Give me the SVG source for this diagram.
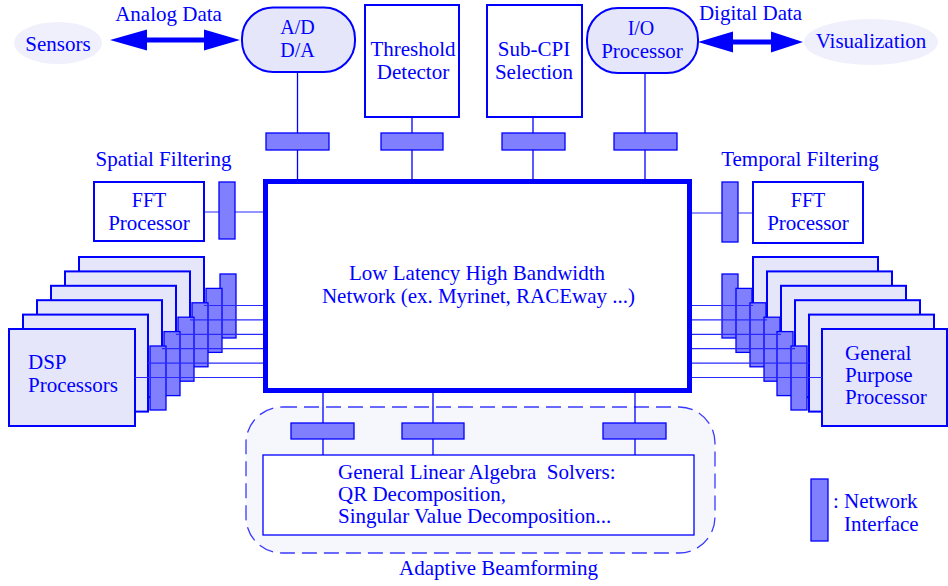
<svg xmlns="http://www.w3.org/2000/svg" width="948" height="586" viewBox="0 0 948 586">
<style>
text{font-family:"Liberation Serif","Times New Roman",serif;font-size:21px;fill:#0000ff;white-space:pre}
.s{font-size:20px}
.m{text-anchor:middle}
.ln{stroke:#0000ff;stroke-width:1.3;fill:none}
.ln2{stroke:#2a2aff;stroke-width:1.2;fill:none}
.ni{fill:#8080ff;stroke:#0000ff;stroke-width:1.3}
.box{fill:#ffffff;stroke:#0000ff;stroke-width:2}
.lav{fill:#e6e6fa;stroke:#0000ff;stroke-width:2}
.ell{fill:#f0f0fc;stroke:none}
.arr{fill:#0000ff;stroke:none}
</style>
<rect width="948" height="586" fill="#ffffff"/>

<g id="adaptive-beamforming">
<rect x="246" y="407" width="469" height="146" rx="36" ry="36" fill="#f6f6fd" stroke="#3a3aff" stroke-width="1.3" stroke-dasharray="15 7"/>
<text class="m" x="498.5" y="575">Adaptive Beamforming</text>
</g>

<g id="connectors">
<line class="ln" x1="297.5" y1="72" x2="297.5" y2="181"/>
<line class="ln" x1="412" y1="117" x2="412" y2="181"/>
<line class="ln" x1="533" y1="117" x2="533" y2="181"/>
<line class="ln" x1="645" y1="73" x2="645" y2="181"/>
<line class="ln2" x1="204" y1="212" x2="263" y2="212"/>
<line class="ln2" x1="692" y1="213" x2="753" y2="213"/>
<line class="ln" x1="323" y1="393" x2="323" y2="455"/>
<line class="ln" x1="433" y1="393" x2="433" y2="455"/>
<line class="ln" x1="635" y1="393" x2="635" y2="455"/>
<polygon class="arr" points="110,40 147,29.5 147,37.5 204,37.5 204,29.5 240,40 204,50.5 204,42.5 147,42.5 147,50.5"/>
<polygon class="arr" points="698,42 733,31.5 733,39.5 771,39.5 771,31.5 803,42 771,52.5 771,44.5 733,44.5 733,52.5"/>
</g>

<g id="sensors">
<ellipse class="ell" cx="58" cy="43" rx="44" ry="21"/>
<text class="m" x="58" y="51">Sensors</text>
</g>
<g id="analog-data-label"><text class="m" x="168.5" y="21">Analog Data</text></g>
<g id="ad-da">
<rect class="lav" x="242" y="7.5" width="113" height="64.5" rx="31" ry="31"/>
<text class="m s" x="297.5" y="34">A/D</text>
<text class="m s" x="297.5" y="57">D/A</text>
</g>
<g id="threshold-detector">
<rect class="box" x="365" y="5" width="94" height="112"/>
<text class="m" x="413" y="56">Threshold</text>
<text class="m" x="413" y="79">Detector</text>
</g>
<g id="sub-cpi-selection">
<rect class="box" x="487" y="5" width="95" height="112"/>
<text class="m" x="534" y="56">Sub-CPI</text>
<text class="m" x="534" y="79">Selection</text>
</g>
<g id="io-processor">
<rect class="lav" x="587" y="8" width="111" height="65" rx="31" ry="31"/>
<text class="m s" x="641" y="35">I/O</text>
<text class="m" x="642" y="58">Processor</text>
</g>
<g id="digital-data-label"><text class="m" x="750.5" y="20">Digital Data</text></g>
<g id="visualization">
<ellipse class="ell" cx="871" cy="42" rx="67" ry="23"/>
<text class="m" x="871" y="48">Visualization</text>
</g>

<g id="ni-top-1"><rect class="ni" x="266" y="133" width="63" height="17"/></g>
<g id="ni-top-2"><rect class="ni" x="381" y="133" width="62" height="17"/></g>
<g id="ni-top-3"><rect class="ni" x="502" y="133" width="63" height="17"/></g>
<g id="ni-top-4"><rect class="ni" x="614" y="133" width="63" height="17"/></g>

<g id="network">
<rect x="265.5" y="181.5" width="424" height="209" fill="#ffffff" stroke="#0000ff" stroke-width="5"/>
<text class="m" x="477" y="280">Low Latency High Bandwidth</text>
<text class="m" x="478.5" y="303">Network (ex. Myrinet, RACEway ...)</text>
</g>

<g id="spatial-filtering">
<text class="m" x="163.5" y="166">Spatial Filtering</text>
<rect class="box" x="94" y="182" width="110" height="59"/>
<text class="m s" x="149" y="207">FFT</text>
<text class="m" x="149" y="230">Processor</text>
<rect class="ni" x="219" y="182" width="16" height="57"/>
</g>

<g id="temporal-filtering">
<text class="m" x="800" y="166">Temporal Filtering</text>
<rect class="ni" x="722" y="182" width="16" height="60"/>
<rect class="box" x="753" y="182" width="110" height="61"/>
<text class="m s" x="808" y="207">FFT</text>
<text class="m" x="808" y="230">Processor</text>
</g>

<g id="dsp-processors">
<rect class="lav" x="79" y="257" width="125" height="97"/>
<rect class="ni" x="220" y="274" width="16" height="64"/>
<rect class="lav" x="65" y="271.4" width="125" height="97"/>
<rect class="ni" x="206" y="288.4" width="16" height="64"/>
<rect class="lav" x="51" y="285.8" width="125" height="97"/>
<rect class="ni" x="192" y="302.8" width="16" height="64"/>
<rect class="lav" x="37" y="300.2" width="125" height="97"/>
<rect class="ni" x="178" y="317.2" width="16" height="64"/>
<rect class="lav" x="23" y="314.6" width="125" height="97"/>
<rect class="ni" x="164" y="331.6" width="16" height="64"/>
<rect class="lav" x="9" y="329" width="126" height="97"/>
<rect class="ni" x="150" y="346" width="16" height="64"/>
<text x="28" y="369">DSP</text>
<text x="28" y="392">Processors</text>
</g>
<g id="dsp-links">
<line class="ln2" x1="204" y1="305.5" x2="263" y2="305.5"/>
<line class="ln2" x1="190" y1="319.9" x2="263" y2="319.9"/>
<line class="ln2" x1="176" y1="334.3" x2="263" y2="334.3"/>
<line class="ln2" x1="162" y1="348.7" x2="263" y2="348.7"/>
<line class="ln2" x1="148" y1="363.1" x2="263" y2="363.1"/>
<line class="ln2" x1="135" y1="377.5" x2="263" y2="377.5"/>
</g>

<g id="general-purpose-processors">
<rect class="lav" x="753" y="257" width="125" height="97"/>
<rect class="ni" x="722" y="274" width="16" height="64"/>
<rect class="lav" x="767" y="271.4" width="125" height="97"/>
<rect class="ni" x="736" y="288.4" width="16" height="64"/>
<rect class="lav" x="781" y="285.8" width="125" height="97"/>
<rect class="ni" x="750" y="302.8" width="16" height="64"/>
<rect class="lav" x="795" y="300.2" width="125" height="97"/>
<rect class="ni" x="764" y="317.2" width="16" height="64"/>
<rect class="lav" x="809" y="314.6" width="125" height="97"/>
<rect class="ni" x="777" y="331.6" width="16" height="64"/>
<rect class="lav" x="822" y="329" width="125" height="97"/>
<rect class="ni" x="791" y="346" width="16" height="64"/>
<text x="845" y="360">General</text>
<text x="845" y="382">Purpose</text>
<text x="845" y="404">Processor</text>
</g>
<g id="gpp-links">
<line class="ln2" x1="692" y1="305.5" x2="753" y2="305.5"/>
<line class="ln2" x1="692" y1="319.9" x2="767" y2="319.9"/>
<line class="ln2" x1="692" y1="334.3" x2="781" y2="334.3"/>
<line class="ln2" x1="692" y1="348.7" x2="795" y2="348.7"/>
<line class="ln2" x1="692" y1="363.1" x2="809" y2="363.1"/>
<line class="ln2" x1="692" y1="377.5" x2="822" y2="377.5"/>
</g>

<g id="ni-bottom-1"><rect class="ni" x="291" y="423" width="63" height="16"/></g>
<g id="ni-bottom-2"><rect class="ni" x="402" y="423" width="62" height="16"/></g>
<g id="ni-bottom-3"><rect class="ni" x="603" y="423" width="63" height="16"/></g>

<g id="linear-algebra-solvers">
<rect x="263" y="455" width="431" height="80" fill="#ffffff" stroke="#0000ff" stroke-width="1.3"/>
<text x="338" y="479" xml:space="preserve">General Linear Algebra  Solvers:</text>
<text x="338" y="501">QR Decomposition,</text>
<text x="338" y="523">Singular Value Decomposition...</text>
</g>

<g id="legend">
<rect class="ni" x="811" y="479" width="17" height="62"/>
<text x="833" y="508">: Network</text>
<text x="844" y="531">Interface</text>
</g>
</svg>
